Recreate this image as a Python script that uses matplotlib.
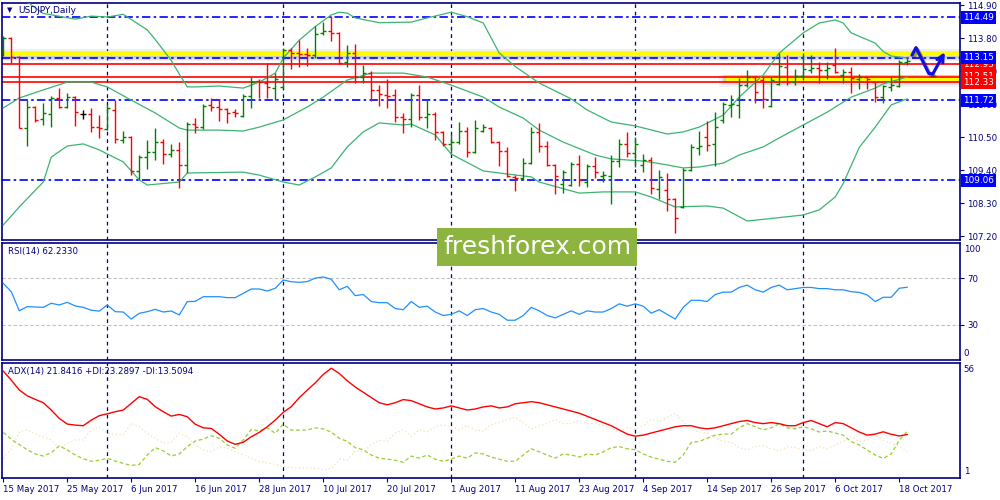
import matplotlib
matplotlib.use("Agg")
import matplotlib.pyplot as plt
import matplotlib.patheffects as pe
import matplotlib.transforms as mtransforms
from matplotlib.patches import Rectangle
import numpy as np
import pandas as pd

# USDJPY daily bars from 15 May 2017
opens = [113.40, 113.80, 113.17, 110.80, 111.50, 111.10, 111.27, 111.80, 111.50, 111.83,
         111.27, 111.27, 110.83, 110.77, 111.40, 110.40, 110.50, 109.37, 109.83, 110.00,
         110.33, 109.93, 110.07, 109.57, 110.93, 110.83, 111.57, 111.50, 111.43, 111.33,
         111.20, 111.87, 112.37, 112.30, 112.13, 112.17, 113.40, 113.30, 113.27, 113.23,
         113.97, 114.03, 113.97, 113.00, 113.30, 112.50, 112.63, 112.07, 111.90, 111.90,
         111.17, 111.10, 111.90, 111.17, 111.27, 110.67, 110.27, 110.33, 110.70, 110.00,
         110.70, 110.80, 110.33, 110.03, 109.17, 109.13, 109.63, 110.67, 110.20, 109.57,
         108.93, 108.90, 109.60, 109.00, 109.53, 109.20, 109.20, 109.70, 110.27, 109.97,
         109.57, 109.73, 108.77, 108.73, 108.43, 108.17, 109.40, 110.13, 110.50, 110.27,
         111.07, 111.57, 111.57, 112.23, 112.50, 112.40, 111.53, 112.27, 112.83, 112.33,
         112.53, 112.73, 112.80, 112.73, 112.90, 112.57, 112.67, 112.43, 112.50, 112.33,
         111.83, 112.17, 112.20, 113.00]
highs = [113.87, 113.83, 113.20, 111.73, 111.55, 111.63, 111.87, 112.13, 111.97, 111.87,
         111.40, 111.47, 111.23, 111.60, 111.73, 110.70, 110.53, 109.90, 110.40, 110.80,
         110.43, 110.27, 110.33, 111.00, 111.13, 111.60, 111.80, 111.77, 111.47, 111.43,
         111.93, 112.50, 112.43, 112.97, 112.63, 113.47, 113.47, 113.73, 113.47, 114.20,
         114.33, 114.53, 114.00, 113.57, 113.60, 112.90, 112.70, 112.23, 112.43, 112.10,
         111.30, 111.97, 112.23, 111.73, 111.33, 110.70, 110.60, 111.00, 110.83, 111.07,
         110.93, 110.83, 110.37, 110.17, 109.23, 109.80, 110.83, 110.97, 110.37, 109.60,
         109.40, 109.67, 109.90, 109.60, 109.83, 109.37, 109.90, 110.43, 110.67, 110.50,
         109.93, 109.83, 109.40, 109.30, 108.47, 109.47, 110.27, 110.70, 111.03, 111.33,
         111.67, 111.90, 112.47, 112.73, 112.53, 112.50, 112.50, 113.30, 113.23, 112.77,
         113.30, 113.23, 113.00, 113.00, 113.47, 112.77, 112.83, 112.60, 112.53, 112.35,
         112.23, 112.50, 113.07, 113.13]
lows = [113.20, 112.97, 110.80, 110.20, 111.00, 110.90, 110.83, 111.47, 111.47, 110.87,
        111.10, 110.67, 110.47, 110.73, 110.30, 110.30, 109.23, 109.07, 109.43, 109.73,
        109.60, 109.83, 108.80, 109.30, 110.63, 110.77, 111.37, 111.03, 110.97, 111.17,
        111.17, 111.47, 111.80, 111.80, 111.73, 112.13, 112.77, 112.83, 112.87, 113.13,
        113.90, 113.70, 112.95, 112.83, 112.30, 112.30, 111.70, 111.53, 111.47, 111.00,
        110.63, 110.83, 111.07, 110.80, 110.40, 110.20, 109.97, 110.27, 109.83, 109.97,
        110.67, 110.30, 109.53, 109.17, 108.70, 109.07, 109.60, 110.00, 109.53, 108.60,
        108.63, 108.87, 108.87, 108.83, 109.13, 109.00, 108.27, 109.50, 109.83, 109.50,
        109.33, 108.60, 108.43, 108.03, 107.30, 108.13, 109.37, 109.90, 110.03, 109.53,
        110.97, 111.17, 111.13, 112.17, 111.63, 111.47, 111.50, 112.25, 112.23, 112.23,
        112.40, 112.63, 112.30, 112.43, 112.63, 112.30, 111.97, 112.10, 112.10, 111.67,
        111.63, 112.03, 112.17, 112.90]
closes = [113.80, 113.17, 110.80, 111.50, 111.07, 111.30, 111.80, 111.50, 111.83, 111.33,
          111.27, 110.83, 110.80, 111.47, 110.43, 110.50, 109.37, 109.83, 110.00, 110.33,
          109.93, 110.07, 109.57, 110.93, 110.83, 111.53, 111.50, 111.43, 111.30, 111.30,
          111.87, 112.33, 112.33, 112.17, 112.43, 113.40, 113.30, 113.27, 113.23, 113.93,
          114.03, 113.97, 112.97, 113.30, 112.50, 112.63, 112.07, 111.93, 111.87, 111.17,
          111.10, 111.90, 111.17, 111.27, 110.67, 110.27, 110.33, 110.70, 110.00, 110.80,
          110.83, 110.33, 110.03, 109.20, 109.13, 109.63, 110.67, 110.20, 109.57, 109.20,
          109.33, 109.60, 109.07, 109.53, 109.33, 109.23, 109.70, 110.27, 109.97, 110.27,
          109.73, 108.80, 109.17, 108.43, 107.80, 109.40, 110.17, 110.20, 110.23, 110.83,
          111.60, 111.60, 112.23, 112.50, 112.00, 111.77, 112.40, 112.87, 112.33, 112.53,
          112.77, 112.80, 112.73, 112.80, 112.67, 112.67, 112.47, 112.50, 112.43, 111.83,
          112.20, 112.23, 113.00, 113.03]

# Bollinger bands (20), read at sample bars
bb_upper_x = [0, 3, 5, 9, 11, 13, 15, 18, 19, 20, 21, 22, 23, 24, 27, 30, 32, 34, 35, 37,
              39, 41, 42, 43, 44, 47, 51, 53, 56, 58, 60, 62, 64, 67, 71, 73, 76, 79, 83, 85,
              87, 90, 92, 95, 97, 100, 102, 104, 105, 106, 109, 110, 111, 113]
bb_upper = [115.30, 115.00, 114.62, 114.43, 114.53, 114.50, 114.59, 114.07, 113.75, 113.40,
            113.05, 112.60, 112.17, 112.17, 112.20, 112.13, 112.33, 112.63, 113.13, 113.73,
            114.18, 114.57, 114.66, 114.63, 114.47, 114.31, 114.33, 114.47, 114.66, 114.51,
            114.30, 113.30, 112.85, 112.30, 111.77, 111.40, 111.00, 110.87, 110.60, 110.67,
            110.83, 111.23, 111.83, 112.57, 113.30, 113.97, 114.30, 114.40, 114.30, 113.97,
            113.63, 113.35, 113.20, 113.13]
bb_mid_x = [0, 2, 5, 8, 11, 13, 16, 19, 22, 23, 27, 30, 32, 35, 38, 40, 43, 46, 50, 53,
            56, 60, 62, 65, 67, 70, 74, 76, 80, 83, 85, 87, 90, 92, 95, 97, 100, 103, 106,
            109, 110, 113]
bb_mid = [111.47, 111.80, 112.07, 112.33, 112.33, 112.17, 111.73, 111.30, 110.80, 110.73,
          110.73, 110.70, 110.83, 111.07, 111.50, 111.83, 112.40, 112.63, 112.63, 112.50,
          112.23, 111.83, 111.50, 111.13, 110.73, 110.33, 109.90, 109.77, 109.70, 109.57,
          109.47, 109.50, 109.63, 109.90, 110.17, 110.47, 110.90, 111.33, 111.83, 112.13,
          112.27, 112.50]
bb_lower_x = [0, 2, 5, 6, 8, 10, 12, 15, 17, 18, 22, 23, 30, 32, 35, 37, 39, 41, 43, 45,
              47, 50, 51, 54, 56, 60, 62, 66, 67, 72, 75, 79, 81, 84, 88, 90, 93, 100, 102,
              104, 105, 106, 107, 109, 111, 113]
bb_lower = [107.57, 108.17, 109.00, 109.83, 110.20, 110.27, 110.07, 109.67, 109.07, 108.90,
            109.00, 109.30, 109.33, 109.23, 109.00, 108.90, 109.17, 109.47, 110.17, 110.67,
            110.97, 110.90, 110.93, 110.57, 109.93, 109.37, 109.30, 109.17, 109.00, 108.63,
            108.67, 108.67, 108.50, 108.17, 108.20, 108.13, 107.70, 107.90, 108.07, 108.50,
            108.95, 109.55, 110.15, 110.83, 111.57, 111.77]

rsi = [65.5, 58.4, 42.1, 45.6, 45.3, 45.0, 48.5, 47.0, 49.3, 46.2,
       45.0, 42.5, 41.8, 47.0, 41.3, 41.0, 35.0, 39.9, 41.3, 43.3,
       41.0, 41.9, 38.5, 49.9, 50.1, 54.1, 54.1, 54.1, 53.3, 53.3,
       57.0, 60.7, 60.7, 59.0, 61.3, 68.4, 66.9, 66.4, 67.0, 70.0,
       71.0, 69.0, 60.0, 63.0, 55.0, 56.0, 50.0, 49.0, 49.0, 44.0,
       43.0, 50.0, 45.0, 46.0, 41.0, 38.0, 39.0, 42.0, 38.0, 43.0,
       44.0, 41.0, 39.0, 34.0, 34.0, 38.0, 45.0, 42.0, 38.0, 36.0,
       39.0, 42.0, 39.0, 42.0, 41.0, 41.0, 44.0, 48.0, 46.0, 48.0,
       46.0, 40.0, 43.0, 39.0, 35.0, 45.0, 51.0, 51.0, 50.0, 56.0,
       58.0, 58.0, 62.0, 64.0, 60.0, 58.0, 62.0, 64.0, 60.0, 61.0,
       62.0, 62.0, 61.0, 61.0, 60.0, 60.0, 58.4, 57.8, 55.6, 49.9,
       53.6, 53.6, 61.3, 62.2]

adx = [52.1, 47.8, 43.1, 40.3, 38.6, 37.0, 33.5, 29.5, 26.8, 26.3,
       26.0, 28.7, 30.8, 31.7, 32.7, 33.5, 36.7, 39.9, 38.6, 35.1,
       32.7, 30.6, 31.4, 30.3, 26.7, 25.0, 24.7, 21.9, 18.7, 17.1,
       18.1, 20.7, 22.8, 25.5, 28.7, 32.4, 35.1, 39.4, 43.0, 46.5,
       50.5, 53.5, 51.0, 47.5, 44.5, 42.0, 39.5, 37.0, 36.0, 37.0,
       38.5, 38.0, 36.5, 35.0, 34.0, 34.5, 35.5, 34.5, 33.5, 34.0,
       35.0, 35.5, 34.5, 35.0, 36.5, 37.0, 37.5, 37.0, 36.0, 35.0,
       34.0, 33.0, 32.0, 30.5, 29.0, 27.5, 26.0, 24.0, 22.0, 21.0,
       21.5, 22.5, 23.5, 24.5, 25.5, 26.0, 26.0, 25.0, 24.5, 25.0,
       26.0, 27.0, 28.0, 28.5, 27.5, 27.0, 27.5, 27.0, 26.0, 26.0,
       27.5, 28.5, 27.0, 25.5, 27.5, 27.0, 25.0, 23.0, 21.5, 22.0,
       23.1, 21.9, 21.1, 21.8]
plus_di = [22.8, 19.5, 17.0, 14.5, 12.5, 11.5, 13.1, 16.4, 14.4, 12.0,
           10.2, 9.0, 9.5, 10.4, 9.1, 8.0, 7.0, 7.5, 12.0, 15.5,
           14.0, 11.5, 12.5, 16.0, 18.7, 19.6, 21.2, 20.0, 16.8, 15.2,
           19.2, 24.2, 23.5, 25.0, 22.4, 26.7, 23.9, 23.9, 24.0, 25.0,
           24.5, 23.0, 20.0, 18.5, 15.5, 14.5, 12.0, 10.5, 10.0, 9.5,
           8.5, 11.5, 10.5, 12.0, 10.0, 9.0, 10.0, 11.5, 10.5, 13.0,
           12.5, 11.0, 10.0, 9.0, 9.0, 12.0, 15.0, 13.5, 12.0, 10.5,
           12.5, 12.0, 11.0, 12.5, 12.0, 13.5, 15.5, 16.0, 15.0, 14.5,
           12.5, 11.0, 10.0, 9.0, 8.5, 12.0, 18.0, 18.5, 20.0, 21.5,
           22.0, 22.0, 25.0, 27.0, 25.5, 24.0, 25.0, 27.0, 25.0, 24.5,
           25.5, 24.5, 23.0, 23.5, 22.5, 21.5, 18.4, 16.8, 14.4, 12.0,
           10.4, 12.5, 19.0, 23.3]
minus_di = [10.4, 15.0, 23.0, 24.0, 22.0, 20.7, 19.2, 15.5, 17.6, 19.2,
            19.2, 23.9, 25.5, 22.4, 21.9, 21.6, 27.1, 25.5, 22.4, 20.0,
            17.6, 18.1, 22.4, 20.7, 16.8, 14.4, 13.6, 16.0, 15.2, 13.6,
            12.0, 10.4, 8.8, 8.3, 7.5, 6.4, 6.0, 5.6, 6.0, 5.5,
            5.0, 5.5, 10.0, 9.5, 14.0, 13.5, 17.0, 19.0, 18.5, 22.5,
            24.0, 21.0, 24.0, 23.0, 25.5, 26.5, 25.5, 24.0, 26.0, 24.0,
            23.5, 26.5, 27.5, 29.0, 30.0, 27.5, 24.5, 26.0, 27.0, 29.0,
            27.0, 27.0, 28.5, 27.0, 27.0, 26.0, 24.5, 23.0, 25.0, 24.5,
            26.0, 29.0, 28.0, 30.0, 32.0, 28.0, 24.0, 23.0, 22.5, 20.0,
            18.5, 18.0, 15.5, 14.5, 16.0, 16.5, 15.0, 14.0, 16.0, 15.5,
            14.5, 14.0, 16.0, 15.0, 17.0, 18.5, 20.7, 18.4, 19.2, 21.6,
            19.2, 17.5, 16.0, 13.5]

# levels drawn on the chart
blue_levels = [114.49, 113.15, 111.72, 109.06]
red_levels = [112.93, 112.51, 112.33]
price_ticks = [107.20, 108.30, 109.40, 110.50, 111.60, 112.70, 113.80, 114.90]
# hand drawn forecast path (bar index, price)
fc_x = [113.6, 114.1, 115.7, 116.2, 117.7]
fc_y = [113.23, 113.48, 112.62, 112.60, 113.33]

NAVY = "#000080"
GREEN = "#008000"
RED = "#FF0000"
BLUE = "#0000FF"
BB = "#3CB371"

plt.rcParams["font.family"] = "DejaVu Sans"
plt.rcParams["font.size"] = 6

o = np.array(opens)
h = np.array(highs)
l = np.array(lows)
c = np.array(closes)
x = np.arange(len(c))
dates = pd.bdate_range("2017-05-15", periods=len(c))
month_starts = [i for i in range(1, len(dates)) if dates[i].month != dates[i - 1].month]

fig = plt.figure(figsize=(10, 5), dpi=100)
ax = fig.add_axes([0.002, 0.52, 0.958, 0.474])
ax_rsi = fig.add_axes([0.002, 0.28, 0.958, 0.234], sharex=ax)
ax_adx = fig.add_axes([0.002, 0.044, 0.958, 0.23], sharex=ax)

for a in (ax, ax_rsi, ax_adx):
    for s in a.spines.values():
        s.set_color(NAVY)
        s.set_linewidth(1.2)
    a.yaxis.tick_right()
    a.tick_params(axis="y", colors=NAVY, length=3, width=0.8, pad=2, labelsize=6.2)
    a.tick_params(axis="x", colors=NAVY, length=3, width=0.8, pad=2, labelsize=6.2)
    for m in month_starts:
        a.axvline(m, color=NAVY, lw=0.9, ls=(0, (3, 3)), zorder=1)
ax.set_xlim(-0.16, 119.6)

# ---- price panel
ax.set_ylim(107.067, 114.967)
ax.set_yticks(price_ticks)
ax.set_yticklabels([f"{v:.2f}" for v in price_ticks])
ax.tick_params(axis="x", bottom=False, labelbottom=False)

# yellow zones with soft grey shadow
for k, a_ in enumerate([0.10, 0.16, 0.22]):
    ax.axhspan(113.20 - 0.06 * (3 - k), 113.20, color="grey", alpha=a_, lw=0, zorder=1)
ax.axhspan(113.37, 113.45, color="grey", alpha=0.12, lw=0, zorder=1)
ax.axhspan(113.20, 113.37, color="#FFFF00", lw=0, zorder=1.5)
x0 = 90.4
for k, a_ in enumerate([0.10, 0.16, 0.22]):
    ax.add_patch(Rectangle((x0 - 0.3 * (3 - k), 112.36 - 0.06 * (3 - k)), 130, 0.06 * (3 - k) + 0.2,
                           color="grey", alpha=a_, lw=0, zorder=1))
ax.add_patch(Rectangle((x0, 112.36), 130, 0.16, color="#FFFF00", lw=0, zorder=1.5))

for lv in blue_levels:
    ax.axhline(lv, color=BLUE, lw=1.2, ls=(0, (5, 2, 1.5, 2)), zorder=2)
for lv in red_levels:
    ax.axhline(lv, color=RED, lw=1.2, zorder=2)

ax.plot(bb_upper_x, bb_upper, color=BB, lw=0.9, zorder=3)
ax.plot(bb_mid_x, bb_mid, color=BB, lw=0.9, zorder=3)
ax.plot(bb_lower_x, bb_lower, color=BB, lw=0.9, zorder=3)

colors = np.where(c > o, GREEN, np.where(c < o, RED, "black"))
ax.vlines(x, l, h, colors=colors, lw=1.0, zorder=4)
ax.hlines(o, x - 0.38, x, colors=colors, lw=1.0, zorder=4)
ax.hlines(c, x, x + 0.38, colors=colors, lw=1.0, zorder=4)

shadow = [pe.SimpleLineShadow(offset=(1.5, -1.5), alpha=0.35), pe.Normal()]
ax.plot(fc_x[:-1], fc_y[:-1], color="#1010E0", lw=2.3, zorder=6, solid_capstyle="round",
        path_effects=shadow)
ax.annotate("", xy=(fc_x[-1], fc_y[-1]), xytext=(fc_x[-2], fc_y[-2]), zorder=6,
            arrowprops=dict(arrowstyle="->", color="#1010E0", lw=2.3, mutation_scale=12,
                            shrinkA=0, shrinkB=0))

# level labels on the price scale (they overlap like on the terminal)
tr = mtransforms.blended_transform_factory(ax.transAxes, ax.transData)
label_order = [(114.49, BLUE), (112.93, RED), (113.15, BLUE), (112.51, RED),
               (112.33, RED), (111.72, BLUE), (109.06, BLUE)]
for lv, col in label_order:
    ax.text(1.0035, lv, f"{lv:.2f}", transform=tr, color="white", fontsize=6.4,
            ha="left", va="center", clip_on=False, zorder=20,
            bbox=dict(boxstyle="square,pad=0.22", fc=col, ec="none"))

ax.text(0.0055, 0.97, "\u25BC", transform=ax.transAxes, color=NAVY, fontsize=5,
        ha="left", va="center")
ax.text(0.017, 0.97, "USDJPY,Daily", transform=ax.transAxes, color=NAVY, fontsize=6.5,
        ha="left", va="center")

# ---- RSI panel
ax_rsi.set_ylim(0, 100)
ax_rsi.set_yticks([30, 70])
ax_rsi.set_yticklabels(["30", "70"])
ax_rsi.tick_params(axis="x", bottom=False, labelbottom=False)
for lv in (30, 70):
    ax_rsi.axhline(lv, color="#C0C0C0", lw=0.8, ls=(0, (3, 2)), zorder=1)
ax_rsi.plot(x, rsi, color="#1E90FF", lw=0.9, zorder=3)
ax_rsi.text(1.004, 0.985, "100", transform=ax_rsi.transAxes, color=NAVY, fontsize=6.2,
            ha="left", va="top")
ax_rsi.text(1.004, 0.02, "0", transform=ax_rsi.transAxes, color=NAVY, fontsize=6.2,
            ha="left", va="bottom")
ax_rsi.text(0.006, 0.93, f"RSI(14) {62.2330:.4f}", transform=ax_rsi.transAxes, color=NAVY,
            fontsize=6.2, ha="left", va="center")

# ---- ADX panel
ax_adx.set_ylim(1, 56)
ax_adx.set_yticks([])
ax_adx.plot(x, minus_di, color="#F5DEB3", lw=0.9, ls=(0, (1, 2)), zorder=2)
ax_adx.plot(x, plus_di, color="#9ACD32", lw=0.9, ls=(0, (3, 2)), zorder=2)
ax_adx.plot(x, adx, color=RED, lw=1.0, zorder=3)
ax_adx.text(1.004, 0.985, "56", transform=ax_adx.transAxes, color=NAVY, fontsize=6.2,
            ha="left", va="top")
ax_adx.text(1.004, 0.02, "1", transform=ax_adx.transAxes, color=NAVY, fontsize=6.2,
            ha="left", va="bottom")
ax_adx.text(0.006, 0.93, "ADX(14) 21.8416 +DI:23.2897 -DI:13.5094", transform=ax_adx.transAxes,
            color=NAVY, fontsize=6.2, ha="left", va="center")

ticks = list(range(0, len(x), 8))
ax_adx.set_xticks(ticks)
ax_adx.set_xticklabels([f"{dates[i].day} {dates[i]:%b %Y}" for i in ticks])
for lbl in ax_adx.get_xticklabels():
    lbl.set_horizontalalignment("left")

# watermark
fig.patches.append(Rectangle((0.437, 0.468), 0.2, 0.076, transform=fig.transFigure,
                             fc="#8DB43E", ec="none", zorder=10))
fig.text(0.537, 0.505, "freshforex.com", color="white", fontsize=18, ha="center",
         va="center", zorder=11)

fig.savefig("out.png", dpi=100, facecolor="white")
